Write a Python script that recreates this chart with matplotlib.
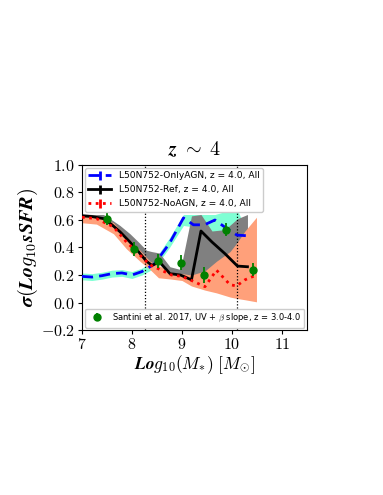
import numpy as np
import matplotlib
matplotlib.use("Agg")
import matplotlib.pyplot as plt

plt.rcParams['mathtext.fontset'] = 'cm'

# ---- data ----
x_oa = [7.0, 7.2, 7.4, 7.6, 7.8, 8.0, 8.2, 8.45, 8.75, 9.03, 9.23, 9.45, 9.66, 9.85, 10.1, 10.33]
y_oa = [0.19, 0.185, 0.195, 0.21, 0.215, 0.20, 0.225, 0.28, 0.43, 0.615, 0.565, 0.565, 0.60, 0.55, 0.49, 0.485]
lo_oa = [0.165, 0.16, 0.17, 0.185, 0.19, 0.175, 0.20, 0.25, 0.40, 0.56, 0.55, 0.52, 0.47, 0.45, 0.47, 0.48]
hi_oa = [0.215, 0.21, 0.22, 0.235, 0.24, 0.225, 0.25, 0.31, 0.47, 0.64, 0.64, 0.64, 0.64, 0.66, 0.68, 0.49]

x_ref = [7.0, 7.2, 7.43, 7.6, 7.76, 7.96, 8.13, 8.29, 8.4, 8.55, 8.76, 8.97, 9.19, 9.38, 9.6, 9.86, 10.11, 10.31]
y_ref = [0.63, 0.625, 0.61, 0.565, 0.515, 0.44, 0.37, 0.30, 0.27, 0.295, 0.21, 0.20, 0.165, 0.52, 0.44, 0.355, 0.265, 0.26]
lo_ref = [0.615, 0.61, 0.59, 0.55, 0.50, 0.43, 0.36, 0.29, 0.26, 0.28, 0.20, 0.19, 0.16, 0.20, 0.25, 0.25, 0.25, 0.25]
hi_ref = [0.645, 0.64, 0.64, 0.60, 0.56, 0.50, 0.44, 0.38, 0.37, 0.36, 0.26, 0.24, 0.63, 0.64, 0.52, 0.53, 0.61, 0.64]

x_na = [7.0, 7.29, 7.63, 7.89, 8.16, 8.36, 8.53, 8.79, 9.0, 9.19, 9.46, 9.69, 9.96, 10.09, 10.26, 10.49]
y_na = [0.62, 0.61, 0.55, 0.44, 0.345, 0.273, 0.245, 0.20, 0.19, 0.16, 0.115, 0.235, 0.13, 0.12, 0.165, 0.20]
lo_na = [0.58, 0.57, 0.50, 0.39, 0.30, 0.24, 0.18, 0.17, 0.16, 0.12, 0.09, 0.07, 0.04, 0.03, 0.02, 0.005]
hi_na = [0.63, 0.625, 0.58, 0.48, 0.38, 0.30, 0.27, 0.22, 0.21, 0.20, 0.23, 0.30, 0.37, 0.43, 0.52, 0.62]

x_obs = [7.5, 8.05, 8.53, 8.99, 9.45, 9.88, 10.43]
y_obs = [0.61, 0.39, 0.30, 0.29, 0.20, 0.53, 0.24]
e_obs = [0.045, 0.05, 0.05, 0.055, 0.055, 0.05, 0.045]

vlines = [8.27, 10.1]

xticks = [7, 8, 9, 10, 11]
yticks = [-0.2, 0.0, 0.2, 0.4, 0.6, 0.8, 1.0]

labels = ['L50N752-OnlyAGN, z = 4.0, All', 'L50N752-Ref, z = 4.0, All', 'L50N752-NoAGN, z = 4.0, All']
obs_label = r'Santini et al. 2017, UV + $\beta$ slope, z = 3.0-4.0'

# ---- figure ----
fig = plt.figure(figsize=(3.83, 4.95), dpi=100)
ax = fig.add_axes([0.214, 0.3333, 0.5875, 0.3334])

ax.fill_between(x_oa, lo_oa, hi_oa, color='aquamarine', lw=0, zorder=1)
ax.fill_between(x_ref, lo_ref, hi_ref, color='gray', lw=0, zorder=1.1)
ax.fill_between(x_na, lo_na, hi_na, color='lightsalmon', lw=0, zorder=1.2)

h1 = ax.errorbar(x_oa, y_oa, yerr=np.zeros(len(x_oa)), color='blue', ls=(0, (4, 2.2)), lw=2, zorder=3)
h2 = ax.errorbar(x_ref, y_ref, yerr=np.zeros(len(x_ref)), color='black', ls='-', lw=2, zorder=3)
h3 = ax.errorbar(x_na, y_na, yerr=np.zeros(len(x_na)), color='red', ls=(0, (1, 1.6)), lw=2, zorder=3)

for v in vlines:
    ax.axvline(v, color='black', ls=(0, (1, 1.5)), lw=0.9, zorder=2)

h4 = ax.errorbar(x_obs, y_obs, yerr=e_obs, fmt='o', color='green', ms=5, elinewidth=1.3, capsize=0, zorder=4)

ax.set_xlim(7, 11.5)
ax.set_ylim(-0.2, 1.0)
ax.set_xticks(xticks)
ax.set_xticklabels([r'$\mathbf{%d}$' % t for t in xticks])
ax.set_yticks(yticks)
ax.set_yticklabels([r'$\mathbf{%.1f}$' % t for t in yticks])
ax.tick_params(labelsize=11.5, length=3, width=0.8, pad=2)

ax.set_title(r'$\boldsymbol{z}\;\boldsymbol{\sim}\;\boldsymbol{4}$', fontsize=14.5, pad=7)
ax.set_xlabel(r'$\boldsymbol{Log_{10}(M_{*})\ [M_{\odot}]}$', fontsize=12.5, labelpad=1)
ax.set_ylabel(r'$\boldsymbol{\sigma(Log_{10}sSFR)}$', fontsize=14.5, labelpad=1)

leg1 = ax.legend([h1, h2, h3], labels, loc='upper left', fontsize=6.6, handlelength=2.5,
                 borderaxespad=0.3, labelspacing=0.55, framealpha=1)
ax.add_artist(leg1)
ax.legend([h4], [obs_label], loc='lower right', fontsize=6.0, borderaxespad=0.3, framealpha=1)

fig.savefig('out.png', dpi=100)
